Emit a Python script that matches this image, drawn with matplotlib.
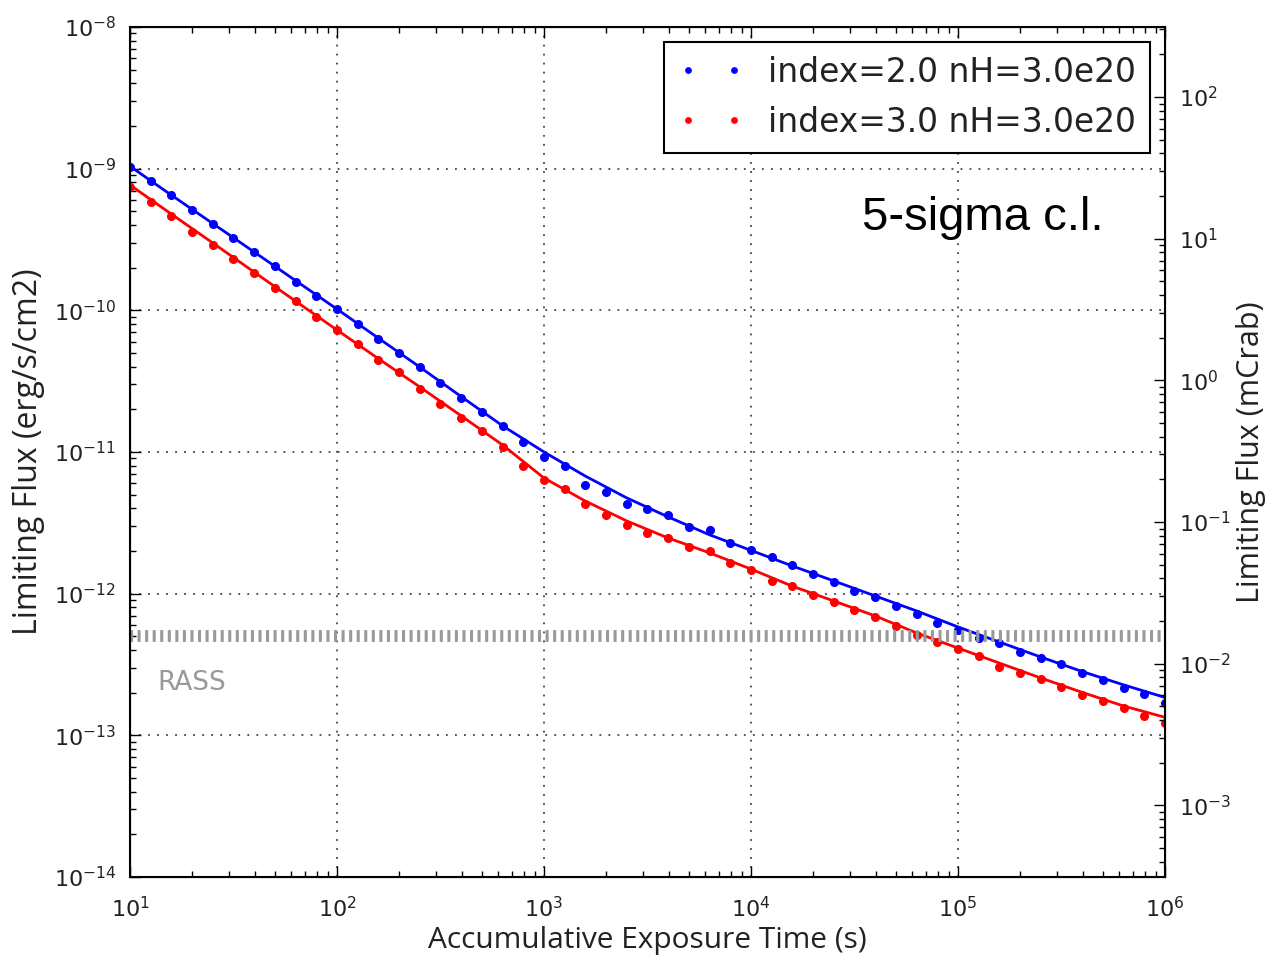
import numpy as np
import matplotlib
matplotlib.use("Agg")
import matplotlib.pyplot as plt

# exposure times of the sampled points (s)
exposure = [10, 12.6, 15.8, 20.0, 25.1, 31.6, 39.8, 50.1, 63.1, 79.4,
            100, 126, 158, 200, 251, 316, 398, 501, 631, 794,
            1000, 1260, 1580, 2000, 2510, 3160, 3980, 5010, 6310, 7940,
            1.0e4, 1.26e4, 1.58e4, 2.0e4, 2.51e4, 3.16e4, 3.98e4, 5.01e4, 6.31e4, 7.94e4,
            1.0e5, 1.26e5, 1.58e5, 2.0e5, 2.51e5, 3.16e5, 3.98e5, 5.01e5, 6.31e5, 7.94e5,
            1.0e6]

# limiting flux points (erg/s/cm2)
flux_idx2 = [1.02e-9, 8.18e-10, 6.52e-10, 5.11e-10, 4.07e-10, 3.26e-10, 2.57e-10, 2.06e-10, 1.59e-10, 1.27e-10,
             1.02e-10, 8.01e-11, 6.25e-11, 4.97e-11, 4.00e-11, 3.08e-11, 2.39e-11, 1.91e-11, 1.53e-11, 1.18e-11,
             9.27e-12, 7.96e-12, 5.85e-12, 5.25e-12, 4.27e-12, 3.94e-12, 3.59e-12, 2.94e-12, 2.82e-12, 2.29e-12,
             2.03e-12, 1.82e-12, 1.58e-12, 1.37e-12, 1.20e-12, 1.04e-12, 9.52e-13, 8.22e-13, 7.15e-13, 6.24e-13,
             5.54e-13, 4.84e-13, 4.46e-13, 3.86e-13, 3.53e-13, 3.19e-13, 2.74e-13, 2.46e-13, 2.15e-13, 1.96e-13,
             1.70e-13]
flux_idx3 = [7.46e-10, 5.85e-10, 4.63e-10, 3.59e-10, 2.89e-10, 2.29e-10, 1.83e-10, 1.44e-10, 1.16e-10, 9.02e-11,
             7.21e-11, 5.76e-11, 4.46e-11, 3.69e-11, 2.77e-11, 2.18e-11, 1.73e-11, 1.41e-11, 1.09e-11, 7.96e-12,
             6.34e-12, 5.45e-12, 4.26e-12, 3.59e-12, 3.03e-12, 2.69e-12, 2.49e-12, 2.15e-12, 1.99e-12, 1.64e-12,
             1.46e-12, 1.22e-12, 1.13e-12, 9.71e-13, 8.69e-13, 7.61e-13, 6.79e-13, 5.87e-13, 5.11e-13, 4.52e-13,
             4.05e-13, 3.63e-13, 3.05e-13, 2.74e-13, 2.50e-13, 2.18e-13, 1.93e-13, 1.76e-13, 1.55e-13, 1.36e-13,
             1.22e-13]

# smooth model curves
exposure_fit = [10, 15.8, 25.1, 39.8, 63.1, 100, 158, 251, 398, 631,
                1000, 1580, 2510, 3980, 6310, 1.0e4, 1.58e4, 2.51e4, 3.98e4, 6.31e4,
                1.0e5, 1.58e5, 2.51e5, 3.98e5, 6.31e5, 1.0e6]
fit_idx2 = [1.04e-9, 6.52e-10, 4.10e-10, 2.58e-10, 1.62e-10, 1.02e-10, 6.38e-11, 3.98e-11, 2.46e-11, 1.53e-11,
            1.00e-11, 6.77e-12, 4.74e-12, 3.48e-12, 2.60e-12, 2.02e-12, 1.57e-12, 1.23e-12, 9.63e-13, 7.55e-13,
            5.82e-13, 4.56e-13, 3.57e-13, 2.82e-13, 2.27e-13, 1.85e-13]
fit_idx3 = [7.67e-10, 4.79e-10, 2.99e-10, 1.86e-10, 1.16e-10, 7.26e-11, 4.57e-11, 2.88e-11, 1.80e-11, 1.12e-11,
            6.55e-12, 4.51e-12, 3.26e-12, 2.47e-12, 1.94e-12, 1.49e-12, 1.13e-12, 8.88e-13, 6.96e-13, 5.28e-13,
            4.13e-13, 3.24e-13, 2.54e-13, 2.01e-13, 1.61e-13, 1.34e-13]

rass_flux = 5e-13
crab_unit = 3.2e-11   # erg/s/cm2 per mCrab
labels = ["index=2.0 nH=3.0e20", "index=3.0 nH=3.0e20"]
xticks = [1e1, 1e2, 1e3, 1e4, 1e5, 1e6]
yticks = [1e-14, 1e-13, 1e-12, 1e-11, 1e-10, 1e-9, 1e-8]
crab_ticks = [1e-3, 1e-2, 1e-1, 1e0, 1e1, 1e2]

plt.rcParams['xtick.direction'] = 'in'
plt.rcParams['ytick.direction'] = 'in'

fig = plt.figure(figsize=(12.66, 9.67), dpi=100)
ax = fig.add_axes([0.1027, 0.0931, 0.8175, 0.879])

ax.plot(exposure_fit, fit_idx2, '-', color='#0000ff', lw=2)
ax.plot(exposure_fit, fit_idx3, '-', color='#ff0000', lw=2)
ax.plot(exposure, flux_idx2, 'o', color='#0000ff', ms=5.5, mec='#0000ff', label=labels[0])
ax.plot(exposure, flux_idx3, 'o', color='#ff0000', ms=5.5, mec='#ff0000', label=labels[1])

# RASS sensitivity level drawn as a row of short grey bars
ax.axhline(rass_flux, color='#999999', lw=8.5, dashes=(0.26, 0.38), solid_capstyle='butt',
           dash_capstyle='butt')
ax.text(13.5, 2.34e-13, "RASS", color='#999999', fontsize=19, ha='left', va='center')

ax.set_xscale('log')
ax.set_yscale('log')
ax.set_xlim(10, 1e6)
ax.set_ylim(1e-14, 1e-8)
ax.set_xticks(xticks)
ax.set_yticks(yticks)
ax.grid(True, which='major', ls=(0, (1, 4)), color='#444444', lw=1.3)

ax.tick_params(which='both', top=True, right=False, labelsize=16, width=1, labelcolor='#222222')
ax.tick_params(which='major', length=8)
ax.tick_params(which='minor', length=4)
ax.tick_params(axis='x', pad=14)
ax.tick_params(axis='y', pad=10)
for s in ax.spines.values():
    s.set_linewidth(1.5)

ax.set_xlabel("Accumulative Exposure Time (s)", labelpad=3, family=['Open Sans', 'DejaVu Sans'],
              fontsize=21.5, color='#222222')
ax.set_ylabel("Limiting Flux (erg/s/cm2)", labelpad=6, family=['Open Sans', 'DejaVu Sans'],
              fontsize=23, color='#222222')

ax.text(0.707, 0.775, "5-sigma c.l.", transform=ax.transAxes, fontsize=34,
        family=['Liberation Sans', 'DejaVu Sans'], ha='left', va='center')

leg = ax.legend(loc='upper right', numpoints=2, fontsize=23.7, markerscale=0.7,
                fancybox=False, framealpha=1, edgecolor='k', borderaxespad=0.45,
                handlelength=2.0, handletextpad=0.75, labelspacing=0.52, borderpad=0.42)
leg.get_frame().set_linewidth(1.5)
for t in leg.get_texts():
    t.set_color('#222222')

# right axis in mCrab
ax2 = ax.twinx()
ax2.set_yscale('log')
ax2.set_ylim(1e-14 / crab_unit, 1e-8 / crab_unit)
ax2.set_yticks(crab_ticks)
ax2.tick_params(which='both', labelsize=16, width=1, pad=10, labelcolor='#222222')
ax2.tick_params(which='major', length=8)
ax2.tick_params(which='minor', length=4)
ax2.set_ylabel("Limiting Flux (mCrab)", labelpad=4, family=['Open Sans', 'DejaVu Sans'],
               fontsize=22, color='#222222')

fig.savefig("out.png", dpi=100, facecolor='white')
